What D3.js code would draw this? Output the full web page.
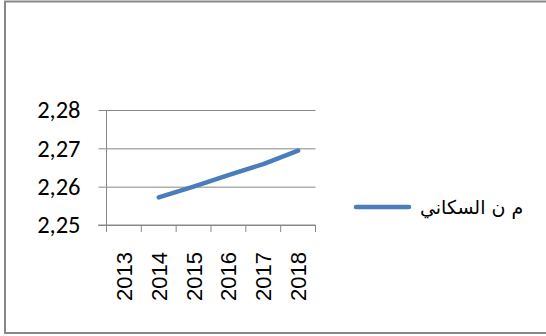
<!DOCTYPE html>
<html>
<head>
<meta charset="utf-8">
<script src="https://cdn.jsdelivr.net/npm/d3@7"></script>
<style>
  body { margin: 0; background: #fff; }
  svg { display: block; }
</style>
</head>
<body>
<div id="chart"></div>
<script>
const years = ["2013", "2014", "2015", "2016", "2017", "2018"]
const values = [null, 2.2572, 2.2600, 2.2630, 2.2659, 2.2694]
const yTicks = [2.25, 2.26, 2.27, 2.28]
const seriesName = "م ن السكاني"

const width = 546, height = 336

var svg = d3.select("#chart")
            .append("svg")
            .attr("width", width)
            .attr("height", height)

// outer frame (right side runs off the picture)
svg.append("rect")
    .attr("x", 5).attr("y", 1.5)
    .attr("width", 560).attr("height", 331.5)
    .attr("fill", "none")
    .attr("stroke", "#888")
    .attr("stroke-width", 2)

var x = d3.scaleBand()
            .domain(years)
            .range([106.5, 315.5])

var y = d3.scaleLinear()
            .domain([2.25, 2.28])
            .range([225, 110])

// gridlines + y axis
var yAxis = d3.axisLeft(y)
                .tickValues(yTicks)
                .tickSize(-(315.5 - 106.5))
                .tickPadding(26)
                .tickFormat(d => d3.format(".2f")(d).replace(".", ","))

var gy = svg.append("g")
            .attr("transform", "translate(106.5,0)")
            .call(yAxis)
gy.select(".domain").remove()
gy.selectAll(".tick line")
    .attr("x1", -8)
    .attr("stroke", "#888")
gy.selectAll("text")
    .attr("font-family", "Carlito, 'Liberation Sans', sans-serif")
    .attr("font-size", 24.5)
    .attr("fill", "#000")

// y axis line
svg.append("line")
    .attr("x1", 106.5).attr("x2", 106.5)
    .attr("y1", y(2.28)).attr("y2", y(2.25) + 7)
    .attr("stroke", "#888")

// x axis: ticks at band edges
var edges = years.map(d => x(d)).concat([x.range()[1]])
svg.append("g")
    .selectAll("line")
    .data(edges)
    .enter()
    .append("line")
    .attr("x1", d => d).attr("x2", d => d)
    .attr("y1", y(2.25)).attr("y2", y(2.25) + 7)
    .attr("stroke", "#888")

svg.append("line")
    .attr("x1", 98).attr("x2", 315.5)
    .attr("y1", y(2.25)).attr("y2", y(2.25))
    .attr("stroke", "#888")

svg.append("g")
    .selectAll("text")
    .data(years)
    .enter()
    .append("text")
    .attr("transform", d => "translate(" + (x(d) + x.bandwidth() / 2 + 8) + ",252) rotate(-90)")
    .attr("text-anchor", "end")
    .attr("font-family", "'Liberation Sans', Arial, sans-serif")
    .attr("font-size", 22)
    .attr("fill", "#000")
    .text(d => d)

// the series
var pts = years.map((d, i) => [d, values[i]]).filter(p => p[1] !== null)
var line = d3.line()
                .x(p => x(p[0]) + x.bandwidth() / 2)
                .y(p => y(p[1]))

svg.append("path")
    .datum(pts)
    .attr("d", line)
    .attr("fill", "none")
    .attr("stroke", "#4a7ebb")
    .attr("stroke-width", 4.5)
    .attr("stroke-linecap", "round")
    .attr("stroke-linejoin", "round")

// legend
svg.append("line")
    .attr("x1", 356).attr("x2", 409)
    .attr("y1", 207).attr("y2", 207)
    .attr("stroke", "#4a7ebb")
    .attr("stroke-width", 4.5)
    .attr("stroke-linecap", "round")

svg.append("text")
    .attr("x", 420).attr("y", 214)
    .attr("font-family", "'DejaVu Sans', sans-serif")
    .attr("font-size", 19)
    .attr("fill", "#000")
    .text(seriesName)
</script>
</body>
</html>
